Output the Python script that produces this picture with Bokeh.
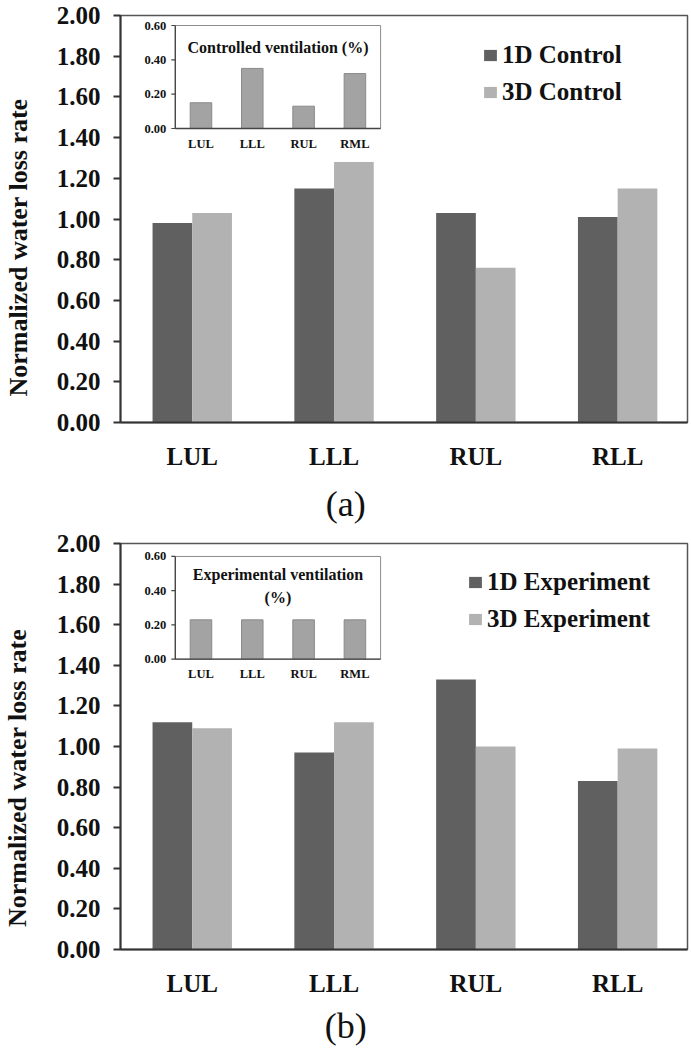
from bokeh.plotting import figure
from bokeh.models import (Range1d, FixedTicker, NumeralTickFormatter, Legend,
                          LegendItem, LinearAxis, ColumnDataSource)
from bokeh.layouts import column
from bokeh.core.properties import value
from bokeh.embed import file_html
from bokeh.resources import INLINE

# ---------------- data ----------------
categories = ["LUL", "LLL", "RUL", "RLL"]
control_1d = [0.98, 1.15, 1.03, 1.01]
control_3d = [1.03, 1.28, 0.76, 1.15]
experiment_1d = [1.12, 0.97, 1.33, 0.83]
experiment_3d = [1.09, 1.12, 1.00, 0.99]
y_ticks = [0.0, 0.2, 0.4, 0.6, 0.8, 1.0, 1.2, 1.4, 1.6, 1.8, 2.0]

inset_categories = ["LUL", "LLL", "RUL", "RML"]
controlled_ventilation = [0.15, 0.35, 0.13, 0.32]
experimental_ventilation = [0.23, 0.23, 0.23, 0.23]
inset_ticks = [0.0, 0.2, 0.4, 0.6]

series_names_a = ["1D Control", "3D Control"]
series_names_b = ["1D Experiment", "3D Experiment"]
inset_title_a = "Controlled ventilation (%)"
inset_title_b = "Experimental ventilation\n(%)"
y_label = "Normalized water loss rate"

# ---------------- style / layout ----------------
SERIF = "Liberation Serif"
DARK = "#606060"
LIGHT = "#b2b2b2"
INSET_FILL = "#a3a3a3"
AXIS = "#333333"
TXT = "#111111"

FIG_W = 689
FRAME_L, FRAME_R = 118, 687
CAT_C0, CAT_STEP = 190.0, 142.3
BAR_W = 0.28
INSET_L, INSET_STEP = 173.0, 51.5
INSET_BAR_W = 0.42


def panel(fig_top, frame_top, frame_bottom, fig_bottom, one, three, names,
          inset_vals, inset_title, inset_top, inset_bottom, title_off,
          legend_left, tag, tag_x, tag_standoff, ylab_y):
    p = figure(width=FIG_W, height=fig_bottom - fig_top, output_backend="svg",
               toolbar_location=None, title=None,
               min_border_left=FRAME_L, min_border_right=FIG_W - FRAME_R,
               min_border_top=frame_top - fig_top, min_border_bottom=fig_bottom - frame_bottom,
               x_range=Range1d((FRAME_L - CAT_C0) / CAT_STEP, (FRAME_R - CAT_C0) / CAT_STEP),
               y_range=Range1d(y_ticks[0], y_ticks[-1]))
    p.background_fill_color = "white"
    p.border_fill_color = "white"
    p.xgrid.visible = False
    p.ygrid.visible = False
    p.outline_line_color = "#555555"
    p.outline_line_width = 1.5

    # inset ranges
    n_in = len(inset_categories)
    imax = inset_ticks[-1]
    s = (inset_bottom - inset_top) / imax
    p.extra_x_ranges = {"inset": Range1d((FRAME_L - INSET_L) / INSET_STEP - 0.5,
                                         (FRAME_R - INSET_L) / INSET_STEP - 0.5)}
    p.extra_y_ranges = {"inset": Range1d(-(frame_bottom - inset_bottom) / s,
                                         (inset_bottom - frame_top) / s)}

    idx = list(range(len(categories)))
    src = ColumnDataSource(dict(x1=[i - BAR_W / 2 for i in idx],
                                x3=[i + BAR_W / 2 for i in idx],
                                one=one, three=three))
    r1 = p.vbar(x="x1", top="one", bottom=0, width=BAR_W, fill_color=DARK,
                line_color=None, source=src)
    r3 = p.vbar(x="x3", top="three", bottom=0, width=BAR_W, fill_color=LIGHT,
                line_color=None, source=src)

    # axes
    p.xaxis.ticker = FixedTicker(ticks=idx)
    p.xaxis.major_label_overrides = {i: c for i, c in enumerate(categories)}
    p.yaxis.ticker = FixedTicker(ticks=y_ticks)
    p.yaxis.formatter = NumeralTickFormatter(format="0.00")
    for ax in (p.xaxis[0], p.yaxis[0]):
        ax.axis_line_color = AXIS
        ax.axis_line_width = 2
        ax.major_tick_line_color = AXIS
        ax.major_tick_line_width = 2
        ax.minor_tick_out = 0
        ax.minor_tick_in = 0
        ax.major_label_text_font = SERIF
        ax.major_label_text_font_style = "bold"
        ax.major_label_text_font_size = "25px"
        ax.major_label_text_color = TXT
    p.yaxis.major_tick_out = 7
    p.yaxis.major_tick_in = 0
    p.yaxis.major_label_standoff = 13
    p.xaxis.major_tick_out = 0
    p.xaxis.major_tick_in = 0
    p.xaxis.major_label_standoff = 20

    # y-axis title (outer axis holding a single rotated label)
    frame_h = frame_bottom - frame_top
    ylab_val = (frame_bottom - ylab_y) / frame_h * y_ticks[-1]
    yl = LinearAxis(ticker=FixedTicker(ticks=[ylab_val]),
                    major_label_overrides={ylab_val: y_label},
                    major_label_orientation="vertical",
                    axis_line_color=None, major_tick_line_color=None,
                    minor_tick_line_color=None, major_label_standoff=15,
                    major_label_text_font=SERIF, major_label_text_font_style="bold",
                    major_label_text_font_size="26px", major_label_text_color=TXT)
    p.add_layout(yl, "left")

    # panel tag (a)/(b)
    tag_val = (tag_x - CAT_C0) / CAT_STEP
    tg = LinearAxis(ticker=FixedTicker(ticks=[tag_val]),
                    major_label_overrides={tag_val: tag},
                    axis_line_color=None, major_tick_line_color=None,
                    minor_tick_line_color=None, major_label_standoff=tag_standoff,
                    major_label_text_font=SERIF, major_label_text_font_style="normal",
                    major_label_text_font_size="36px", major_label_text_color=TXT)
    p.add_layout(tg, "below")

    # inset
    iidx = list(range(n_in))
    kw = dict(x_range_name="inset", y_range_name="inset")
    p.quad(left=[-0.5], right=[n_in - 0.5], bottom=[inset_ticks[0]], top=[imax],
           fill_color="white", line_color="#8c8c8c", line_width=1, **kw)
    p.vbar(x=iidx, top=inset_vals, bottom=0, width=INSET_BAR_W, fill_color=INSET_FILL,
           line_color="#8a8a8a", line_width=1, **kw)
    p.segment(x0=[-0.5, -0.5], y0=[0, 0], x1=[-0.5, n_in - 0.5], y1=[imax, 0],
              line_color="#444444", line_width=1.3, **kw)
    tl = 4 / INSET_STEP
    p.segment(x0=[-0.5] * len(inset_ticks), x1=[-0.5 - tl] * len(inset_ticks),
              y0=inset_ticks, y1=inset_ticks, line_color="#444444", line_width=1.2, **kw)
    p.text(x=[-0.5] * len(inset_ticks), y=inset_ticks,
           text=[f"{t:.2f}" for t in inset_ticks], x_offset=-9,
           text_align="right", text_baseline="middle", text_font=value(SERIF),
           text_font_style="bold", text_font_size="12.5px", text_color=TXT, **kw)
    p.text(x=iidx, y=[0] * n_in, text=inset_categories, y_offset=15,
           text_align="center", text_baseline="middle", text_font=value(SERIF),
           text_font_style="bold", text_font_size="12.5px", text_color=TXT, **kw)
    p.text(x=[(n_in - 1) / 2], y=[imax], text=[inset_title], y_offset=title_off,
           text_align="center", text_baseline="middle", text_font=value(SERIF),
           text_font_style="bold", text_font_size="16px", text_color=TXT,
           text_line_height=1.35, **kw)

    # legend
    legend = Legend(items=[LegendItem(label=names[0], renderers=[r1]),
                           LegendItem(label=names[1], renderers=[r3])],
                    location=(legend_left - FRAME_L, frame_h - 26 - 65),
                    glyph_width=16, glyph_height=14, label_standoff=4,
                    spacing=9, padding=0, margin=0, label_height=28,
                    border_line_color=None, background_fill_alpha=0,
                    label_text_font=SERIF, label_text_font_style="bold",
                    label_text_font_size="25px", label_text_color=TXT)
    p.add_layout(legend)
    return p


pa = panel(0, 15, 422, 531, control_1d, control_3d, series_names_a,
           controlled_ventilation, inset_title_a, 25, 128, 22, 480,
           "(a)", 344, 5, 247)
pb = panel(531, 543, 950, 1048, experiment_1d, experiment_3d, series_names_b,
           experimental_ventilation, inset_title_b, 556, 659, 30, 465,
           "(b)", 344, 0, 778)

layout = column(pa, pb)
open("out.html", "w").write(file_html(layout, INLINE))
